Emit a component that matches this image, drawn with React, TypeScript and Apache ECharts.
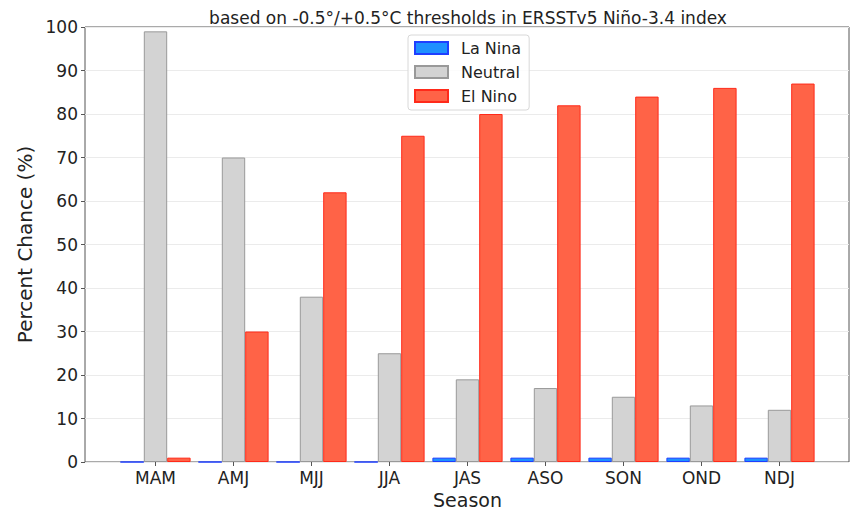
import React, { useEffect, useRef } from "react";
import * as echarts from "echarts";

const seasons = ["MAM", "AMJ", "MJJ", "JJA", "JAS", "ASO", "SON", "OND", "NDJ"];
const laNina = [0, 0, 0, 0, 1, 1, 1, 1, 1];
const neutral = [99, 70, 38, 25, 19, 17, 15, 13, 12];
const elNino = [1, 30, 62, 75, 80, 82, 84, 86, 87];
const yTicks = [0, 10, 20, 30, 40, 50, 60, 70, 80, 90, 100];

const FONT = "DejaVu Sans";

export default function App() {
  const ref = useRef<HTMLDivElement>(null);
  useEffect(() => {
    if (!ref.current) return;
    const chart = echarts.init(ref.current, null, { renderer: "svg" });
    const top = 27;
    const bottom = 47;
    chart.setOption({
      animation: false,
      backgroundColor: "#fff",
      textStyle: { fontFamily: FONT },
      title: {
        text: "based on -0.5°/+0.5°C thresholds in ERSSTv5 Niño-3.4 index",
        left: 463,
        top: 4,
        textAlign: "center",
        textStyle: { fontFamily: FONT, fontSize: 17, fontWeight: "normal", color: "#222" },
      },
      legend: {
        orient: "vertical",
        left: 408,
        top: 35,
        itemWidth: 33,
        itemHeight: 12,
        itemGap: 8,
        padding: [5, 8, 6, 6],
        borderColor: "#d8d8d8",
        borderWidth: 1,
        borderRadius: 3,
        backgroundColor: "rgba(255,255,255,0.85)",
        icon: "rect",
        textStyle: { fontFamily: FONT, fontSize: 16, color: "#222", padding: [0, 0, 0, 8] },
        data: ["La Nina", "Neutral", "El Nino"],
      },
      grid: [
        { left: 116.5, right: 35.5, top, bottom, containLabel: false, outerBoundsMode: "none" },
        {
          left: 85,
          right: 5,
          top,
          bottom,
          show: true,
          borderColor: "#555",
          borderWidth: 1,
          containLabel: false,
          outerBoundsMode: "none",
        },
      ],
      xAxis: [
        {
          type: "category",
          gridIndex: 0,
          data: seasons,
          axisLine: { show: false },
          axisTick: { show: true, alignWithLabel: true, length: 4, lineStyle: { color: "#555" } },
          axisLabel: { fontFamily: FONT, fontSize: 17, color: "#222", margin: 7 },
          name: "Season",
          nameLocation: "middle",
          nameGap: 23,
          nameTextStyle: { fontFamily: FONT, fontSize: 19, color: "#222", lineHeight: 19 },
        },
        {
          type: "value",
          gridIndex: 1,
          min: 0,
          max: 1,
          show: true,
          axisLine: { show: false },
          axisTick: { show: false },
          axisLabel: { show: false },
          splitLine: { show: false },
        },
      ],
      yAxis: [
        {
          type: "value",
          gridIndex: 0,
          min: 0,
          max: 100,
          interval: 10,
          show: false,
        },
        {
          type: "value",
          gridIndex: 1,
          min: 0,
          max: 100,
          interval: 10,
          axisLine: { show: false },
          axisTick: { show: true, length: 4, lineStyle: { color: "#555" } },
          axisLabel: {
            fontFamily: FONT,
            fontSize: 17,
            color: "#222",
            margin: 7,
            formatter: (v: number) => (yTicks.includes(v) ? String(v) : ""),
          },
          splitLine: { show: true, lineStyle: { color: "#ebebeb", width: 1 } },
          name: "Percent Chance (%)",
          nameLocation: "middle",
          nameGap: 44,
          nameTextStyle: { fontFamily: FONT, fontSize: 20, color: "#222" },
        },
      ],
      series: [
        {
          name: "La Nina",
          type: "bar",
          xAxisIndex: 0,
          yAxisIndex: 0,
          data: laNina,
          barWidth: 23.4,
          barGap: "0%",
          itemStyle: { color: "#1E90FF", borderColor: "#1f3fff", borderWidth: 1 },
        },
        {
          name: "Neutral",
          type: "bar",
          xAxisIndex: 0,
          yAxisIndex: 0,
          data: neutral,
          barWidth: 23.4,
          barGap: "0%",
          itemStyle: { color: "#D3D3D3", borderColor: "#999999", borderWidth: 1 },
        },
        {
          name: "El Nino",
          type: "bar",
          xAxisIndex: 0,
          yAxisIndex: 0,
          data: elNino,
          barWidth: 23.4,
          barGap: "0%",
          itemStyle: { color: "#FF6347", borderColor: "#ff2a1a", borderWidth: 1 },
        },
      ],
    });
    return () => chart.dispose();
  }, []);
  return <div ref={ref} style={{ width: 854, height: 509, position: "absolute", left: 0, top: 0 }} />;
}
